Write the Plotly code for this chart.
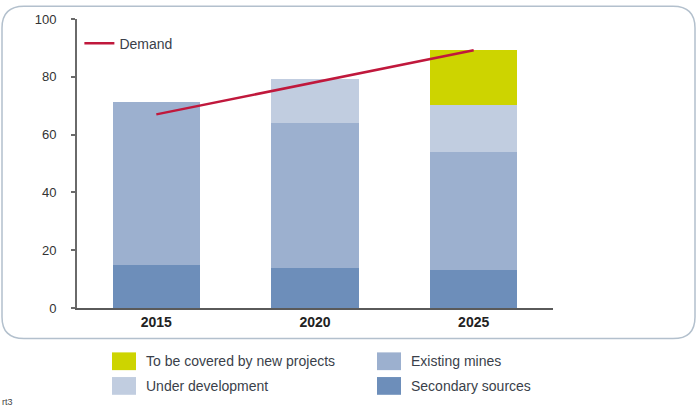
import plotly.graph_objects as go

# ---- data ----
years = ["2015", "2020", "2025"]
secondary_sources = [15.0, 13.7, 13.0]
existing_mines = [56.3, 50.2, 40.9]
under_development = [0.0, 15.3, 16.5]
new_projects = [0.0, 0.0, 19.0]
demand = [67.0, 78.0, 89.2]
y_ticks = [0, 20, 40, 60, 80, 100]

series_names = ["Secondary sources", "Existing mines", "Under development", "To be covered by new projects"]
series_values = [secondary_sources, existing_mines, under_development, new_projects]
series_colors = ["#6d8eba", "#9cb0cf", "#c1cde0", "#cdd400"]

W, H = 697, 409
ML, MR, MT, MB = 77, 144, 15, 101
PW, PH = W - ML - MR, H - MT - MB


def px2paper(px, py):
    return (px - ML) / PW, (H - MB - py) / PH


fig = go.Figure()
for name, vals, col in zip(series_names, series_values, series_colors):
    fig.add_trace(go.Bar(x=years, y=vals, name=name, marker=dict(color=col, line=dict(width=0)),
                         width=0.55, showlegend=False))

fig.add_trace(go.Scatter(x=years, y=demand, mode="lines", name="Demand",
                         line=dict(color="#c0183c", width=2.5), showlegend=True))

shapes = []
annotations = []

# rounded border
x0, y0, x1, y1, r = 2, 2, 695, 339, 22
def P(px, py):
    a, b = px2paper(px, py)
    return f"{a:.5f},{b:.5f}"
path = (f"M {P(x0 + r, y0)} L {P(x1 - r, y0)} Q {P(x1, y0)} {P(x1, y0 + r)} "
        f"L {P(x1, y1 - r)} Q {P(x1, y1)} {P(x1 - r, y1)} "
        f"L {P(x0 + r, y1)} Q {P(x0, y1)} {P(x0, y1 - r)} "
        f"L {P(x0, y0 + r)} Q {P(x0, y0)} {P(x0 + r, y0)} Z")
shapes.append(dict(type="path", path=path, xref="paper", yref="paper",
                   line=dict(color="#b3c0cd", width=1.5), fillcolor="rgba(0,0,0,0)", layer="below"))

# bottom legend (manual)
legend_items = [
    ("To be covered by new projects", "#cdd400", 112, 353),
    ("Under development", "#c1cde0", 112, 378),
    ("Existing mines", "#9cb0cf", 377, 353),
    ("Secondary sources", "#6d8eba", 377, 378),
]
for text, col, lx, ly in legend_items:
    ax0, ay0 = px2paper(lx, ly)
    ax1, ay1 = px2paper(lx + 24, ly + 18)
    shapes.append(dict(type="rect", xref="paper", yref="paper", x0=ax0, x1=ax1, y0=ay1, y1=ay0,
                       fillcolor=col, line=dict(width=0)))
    tx, ty = px2paper(lx + 32, ly + 9)
    annotations.append(dict(text=text, xref="paper", yref="paper", x=tx, y=ty, xanchor="left",
                            yanchor="middle", showarrow=False,
                            font=dict(family="Liberation Sans, Arial", size=14, color="#3a3f4a")))

cx, cy = px2paper(0, 403)
annotations.append(dict(text="rt3", xref="paper", yref="paper", x=cx, y=cy, xanchor="left",
                        yanchor="middle", showarrow=False,
                        font=dict(family="Liberation Sans, Arial", size=9, color="#444444")))

fig.update_layout(
    width=W, height=H, autosize=False,
    margin=dict(l=ML, r=MR, t=MT, b=MB, pad=0),
    barmode="stack",
    plot_bgcolor="white", paper_bgcolor="white",
    font=dict(family="Liberation Sans, Arial", size=13, color="#333333"),
    shapes=shapes, annotations=annotations,
    legend=dict(x=0.005, y=0.97, xanchor="left", yanchor="top", bgcolor="rgba(0,0,0,0)",
                font=dict(family="Liberation Sans, Arial", size=14, color="#3a3f4a"),
                itemwidth=30),
    xaxis=dict(range=[-0.5, 2.5], showgrid=False, showline=True, linecolor="#5a5a5a", linewidth=2,
               ticks="", tickfont=dict(family="Liberation Sans, Arial", size=14, color="#222222",
                                       weight="bold"), zeroline=False),
    yaxis=dict(range=[0, 100], tickvals=y_ticks, showgrid=False, showline=True, linecolor="#6a6a6a",
               linewidth=2, ticks="outside", ticklen=4, tickcolor="#6a6a6a", tickwidth=2,
               ticklabelstandoff=12, zeroline=False,
               tickfont=dict(family="Liberation Sans, Arial", size=13, color="#333333")),
)

fig.write_html("out.html")
